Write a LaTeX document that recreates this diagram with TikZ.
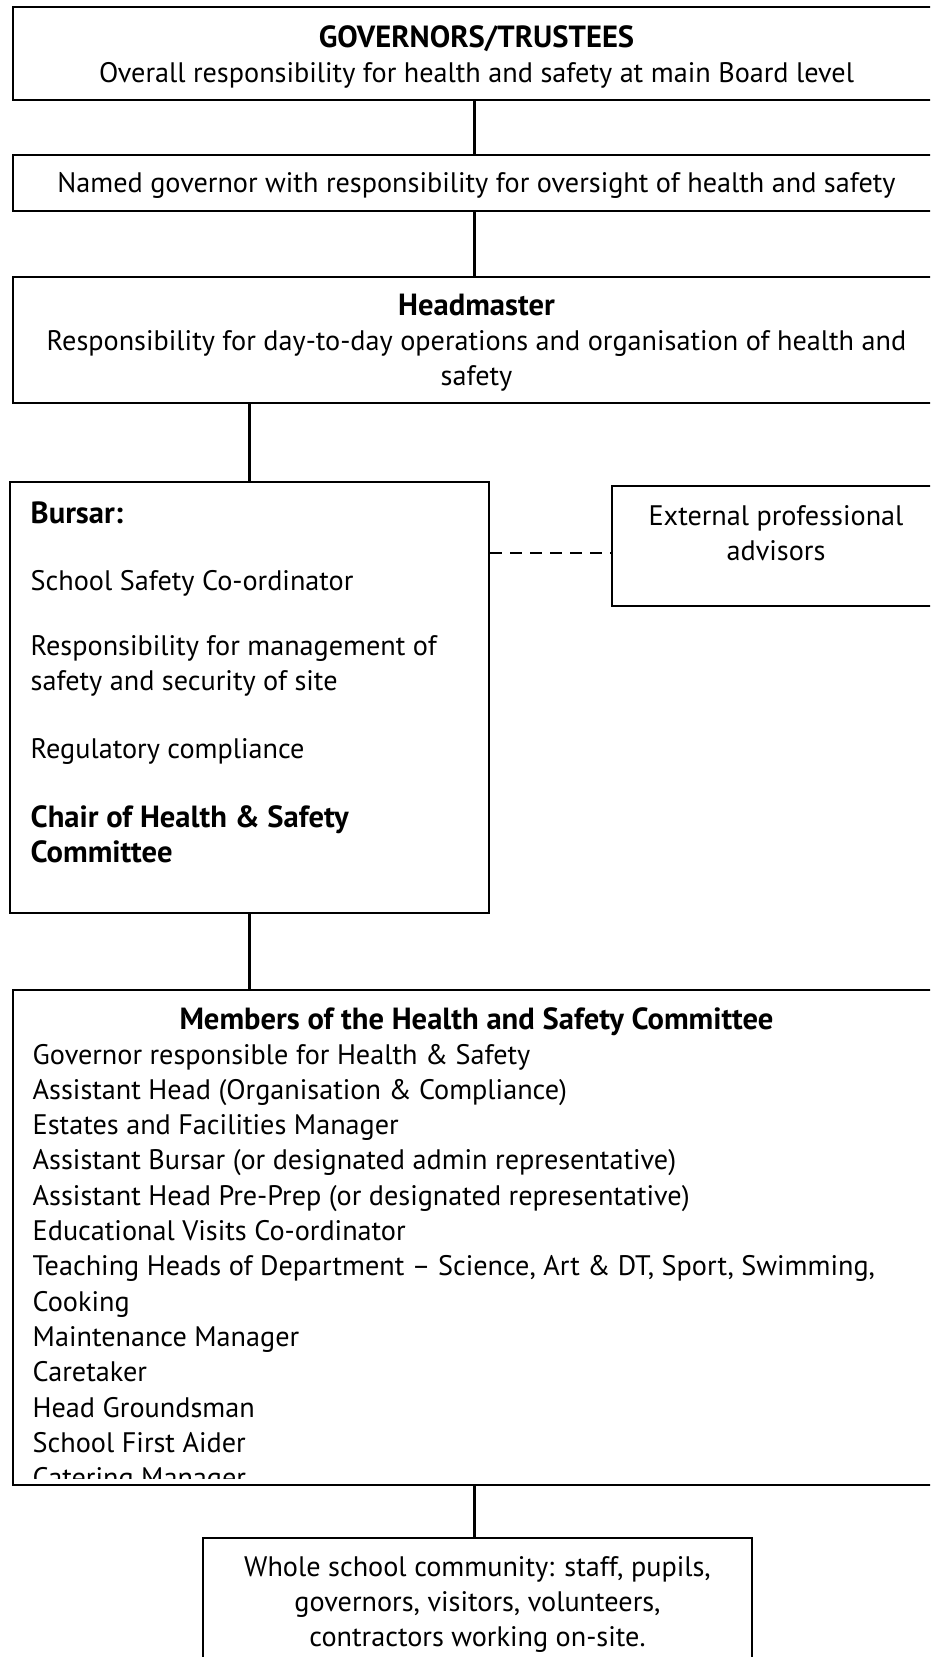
\documentclass[tikz,border=0pt]{standalone}
\usepackage{fontspec}
\setmainfont{PT Sans}
\usetikzlibrary{fit}
\newlength\reflen
\newlength\reflenb
\begin{document}
\settowidth{\reflen}{\fontsize{10}{12}\selectfont Overall responsibility for health and safety at main Board level}%
\settowidth{\reflenb}{\fontsize{10}{12}\selectfont\bfseries Members of the Health and Safety Committee}%
\pgfmathsetmacro\fs{10*755/\reflen}%
\pgfmathsetmacro\fsb{10*594/\reflenb}%
\begin{tikzpicture}[x=1pt,y=-1pt,
  box/.style={draw, line width=2.1pt, inner sep=0pt},
  txt/.style={inner sep=0pt, font=\fontsize{\fs}{35.4}\selectfont},
  bf/.style={txt, font=\fontsize{\fsb}{35.4}\selectfont\bfseries},
  link/.style={line width=2.1pt},
  dashlink/.style={line width=2.1pt, dash pattern=on 12pt off 8pt}]
\clip (0,0) rectangle (930,1657);
\fill[white] (0,0) rectangle (930,1657);
% boxes
\node[box, fit={(13,7) (940,100)}] (gov) {};
\node[box, fit={(13,155) (940,211)}] (named) {};
\node[box, fit={(13,277) (940,403)}] (head) {};
\node[box, fit={(10,482) (489,913)}] (bursar) {};
\node[box, fit={(612,486) (940,606)}] (ext) {};
\node[box, fit={(13,990) (940,1485)}] (members) {};
\node[box, fit={(203,1538) (752,1700)}] (whole) {};
\coordinate (cx) at (474.5,0);
\coordinate (dy) at (0,553);
% connectors
\draw[link] (gov.south -| cx) -- (named.north -| cx);
\draw[link] (named.south -| cx) -- (head.north -| cx);
\draw[link] (bursar.north) -- (bursar.north |- head.south);
\draw[link] (bursar.south) -- (bursar.south |- members.north);
\draw[link] (members.south -| cx) -- (whole.north -| cx);
\draw[dashlink] (bursar.east |- dy) -- (ext.west |- dy);
% texts
\node[bf, anchor=base] (t1) at (476.5,47) {GOVERNORS/TRUSTEES};
\node[txt, anchor=base] (t2) at (476.5,82) {Overall responsibility for health and safety at main Board level};
\node[txt, anchor=base] (t3) at (476.5,192) {Named governor with responsibility for oversight of health and safety};
\node[bf, anchor=base] (t4) at (476.5,315) {Headmaster};
\node[txt, anchor=base] (t5) at (476.5,350) {Responsibility for day-to-day operations and organisation of health and};
\node[txt, anchor=base] (t6) at (476.5,385) {safety};
\node[bf, anchor=base west] (b1) at (30.5,523) {Bursar:};
\node[txt, anchor=base west] (b2) at (30.5,590) {School Safety Co-ordinator};
\node[txt, anchor=base west] (b3) at (30.5,655) {Responsibility for management of};
\node[txt, anchor=base west] (b4) at (30.5,690.5) {safety and security of site};
\node[txt, anchor=base west] (b5) at (30.5,758) {Regulatory compliance};
\node[bf, anchor=base west] (b6) at (30.5,827) {Chair of Health \& Safety};
\node[bf, anchor=base west] (b7) at (30.5,862.5) {Committee};
\node[txt, anchor=base] (e1) at (776,525) {External professional};
\node[txt, anchor=base] (e2) at (776,560) {advisors};
\begin{scope}
\clip (13,990) rectangle (940,1478);
\node[bf, anchor=base] (m0) at (476.5,1029) {Members of the Health and Safety Committee};
\node[txt, anchor=base west] (m1) at (32.5,1064) {Governor responsible for Health \& Safety};
\node[txt, anchor=base west] (m2) at (32.5,1099.3) {Assistant Head (Organisation \& Compliance)};
\node[txt, anchor=base west] (m3) at (32.5,1134.6) {Estates and Facilities Manager};
\node[txt, anchor=base west] (m4) at (32.5,1169.9) {Assistant Bursar (or designated admin representative)};
\node[txt, anchor=base west] (m5) at (32.5,1205.2) {Assistant Head Pre-Prep (or designated representative)};
\node[txt, anchor=base west] (m6) at (32.5,1240.5) {Educational Visits Co-ordinator};
\node[txt, anchor=base west] (m7) at (32.5,1275.8) {Teaching Heads of Department – Science, Art \& DT, Sport, Swimming,};
\node[txt, anchor=base west] (m8) at (32.5,1311.1) {Cooking};
\node[txt, anchor=base west] (m9) at (32.5,1346.4) {Maintenance Manager};
\node[txt, anchor=base west] (m10) at (32.5,1381.7) {Caretaker};
\node[txt, anchor=base west] (m11) at (32.5,1417) {Head Groundsman};
\node[txt, anchor=base west] (m12) at (32.5,1452.3) {School First Aider};
\node[txt, anchor=base west] (m13) at (32.5,1487.6) {Catering Manager};
\end{scope}
\node[txt, anchor=base] (w1) at (477.5,1576) {Whole school community: staff, pupils,};
\node[txt, anchor=base] (w2) at (477.5,1611) {governors, visitors, volunteers,};
\node[txt, anchor=base] (w3) at (477.5,1646) {contractors working on-site.};
\end{tikzpicture}
\end{document}
